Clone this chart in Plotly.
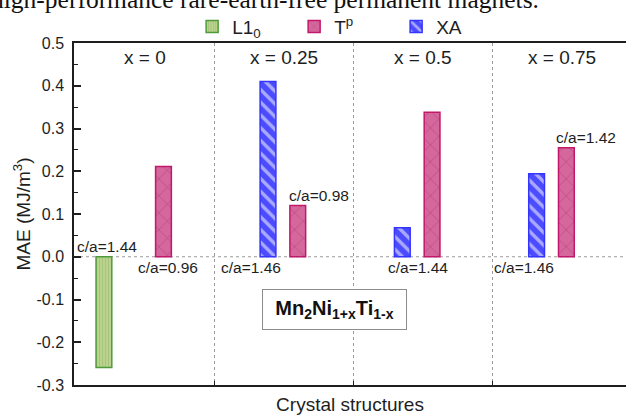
import plotly.graph_objects as go

# ---- data ----
categories = ["x = 0", "x = 0.25", "x = 0.5", "x = 0.75"]
l10_mae = [-0.259, None, None, None]
xa_mae = [None, 0.41, 0.068, 0.194]
tp_mae = [0.211, 0.12, 0.338, 0.255]
l10_ca = ["1.44", None, None, None]
xa_ca = [None, "1.46", "1.44", "1.46"]
tp_ca = ["0.96", "0.98", None, "1.42"]
ytick_vals = [0.5, 0.4, 0.3, 0.2, 0.1, 0.0, -0.1, -0.2, -0.3]
ytick_text = ["0.5", "0.4", "0.3", "0.2", "0.1", "0.0", "-0.1", "-0.2", "-0.3"]
group_bounds = [0.5, 1.5, 2.5]

# ---- styles ----
FONT = "Arial, Liberation Sans, sans-serif"
INK = "#1e1e1e"
BARGAP = 0.335
SLOT = (1 - BARGAP) / 3

series = [
    dict(name="L1<sub>0</sub>", y=l10_mae, ca=l10_ca, slot=-1, rank=1,
         color="#b9d28e", line="#4f9b3b", fg="#a6c47a", shape="|", size=3, sol=0.3),
    dict(name="XA", y=xa_mae, ca=xa_ca, slot=0, rank=3,
         color="#4b4bff", line="#3434ff", fg="#a9a9ff", shape="\\", size=9, sol=0.38),
    dict(name="T<sup>p</sup>", y=tp_mae, ca=tp_ca, slot=1, rank=2,
         color="#d4689c", line="#c2186b", fg="#b13a76", shape="x", size=12, sol=0.08),
]
# label placement (x pixel shift, side) per series and group
ca_style = {
    (0, 0): (3.5, "above"),
    (2, 0): (4.5, "below"),
    (1, 1): (-17, "below"),
    (2, 1): (21, "above"),
    (1, 2): (16, "below"),
    (1, 3): (-13, "below"),
    (2, 3): (20, "above"),
}

fig = go.Figure()
for s in series:
    fig.add_trace(go.Bar(
        x=categories, y=s["y"], name=s["name"], legendrank=s["rank"],
        marker=dict(color=s["color"], line=dict(color=s["line"], width=1.5),
                    pattern=dict(shape=s["shape"], fgcolor=s["fg"], size=s["size"],
                                 solidity=s["sol"], fillmode="overlay", fgopacity=1)),
    ))

annotations = []
for si, s in enumerate(series):
    for gi, lab in enumerate(s["ca"]):
        if lab is None:
            continue
        dx, side = ca_style[(si, gi)]
        val = s["y"][gi]
        if side == "above":
            yv = max(val, 0)
            ys = 10
        else:
            yv = min(val, 0)
            ys = -11
        annotations.append(dict(
            x=gi + s["slot"] * SLOT, y=yv, xref="x", yref="y",
            text="c/a=" + lab, showarrow=False, xshift=dx, yshift=ys,
            xanchor="center", yanchor="middle",
            font=dict(family=FONT, size=15.5, color=INK)))

for gi, c in enumerate(categories):
    annotations.append(dict(
        x=gi, y=0.958, xref="x2", yref="paper", text=c, showarrow=False,
        xanchor="center", yanchor="middle", font=dict(family=FONT, size=19, color=INK)))

annotations.append(dict(
    x=0.472, y=0.2193, xref="paper", yref="paper",
    text="<b>Mn<sub>2</sub>Ni<sub>1+x</sub>Ti<sub>1-x</sub></b>",
    showarrow=False, xanchor="center", yanchor="middle",
    bgcolor="white", bordercolor="#8c8c8c", borderwidth=1, borderpad=1,
    width=141, height=37, font=dict(family=FONT, size=20, color="#111111")))

annotations.append(dict(
    x=0.846, y=1.128, xref="paper", yref="paper",
    text="high-performance rare-earth-free permanent magnets.",
    showarrow=False, xanchor="right", yanchor="middle",
    font=dict(family="Liberation Serif, Times New Roman, serif", size=25.5, color="#111111")))

fig.update_layout(
    width=626, height=415,
    margin=dict(l=74, r=0, t=43, b=30, pad=0),
    paper_bgcolor="white", plot_bgcolor="white",
    barmode="group", bargap=BARGAP, bargroupgap=0.47,
    font=dict(family=FONT, size=16, color=INK),
    showlegend=True,
    legend=dict(orientation="h", x=0.214, xanchor="left", y=1.048, yanchor="middle",
                font=dict(family=FONT, size=19, color=INK), entrywidth=57,
                bgcolor="rgba(0,0,0,0)"),
    xaxis=dict(type="category", range=[-0.4445, 3.6656], showticklabels=False, ticks="",
               showline=True, linecolor=INK, linewidth=1.5, mirror=True,
               showgrid=False, zeroline=False, automargin=False,
               title=dict(text="Crystal structures", standoff=31,
                          font=dict(family=FONT, size=19, color=INK))),
    xaxis2=dict(overlaying="x", anchor="y", side="bottom", range=[-0.514, 3.457],
                tickvals=group_bounds, showticklabels=False, ticks="inside", ticklen=4,
                tickcolor=INK, showgrid=True, gridcolor="#9a9a9a", griddash="dot",
                gridwidth=1, showline=False, zeroline=False),
    yaxis=dict(range=[-0.3, 0.5], tickvals=ytick_vals, ticktext=ytick_text,
               ticks="inside", ticklen=7, tickwidth=1.5, tickcolor=INK,
               minor=dict(ticks="inside", ticklen=4, dtick=0.05, tickcolor=INK, tickwidth=1.2),
               showline=True, linecolor=INK, linewidth=1.5, showgrid=False, zeroline=False,
               ticklabelstandoff=5, tickfont=dict(family=FONT, size=16, color=INK),
               automargin=False,
               title=dict(text="MAE (MJ/m<sup>3</sup>)", standoff=1,
                          font=dict(family=FONT, size=19, color=INK))),
    yaxis2=dict(overlaying="y", side="right", anchor="x", range=[-0.3, 0.5],
                tickvals=ytick_vals, showticklabels=False, ticks="inside", ticklen=3,
                tickcolor=INK, showline=False, showgrid=False, zeroline=False),
    shapes=[dict(type="line", xref="paper", x0=0, x1=1, yref="y", y0=0, y1=0,
                 line=dict(color="#9a9a9a", width=1, dash="dot"), layer="below")],
    annotations=annotations,
)

# the page's default body margin would shift the 626x415 figure; remove it
fig.write_html("out.html", config={"displayModeBar": False},
               post_script="document.body.style.margin='0';")
